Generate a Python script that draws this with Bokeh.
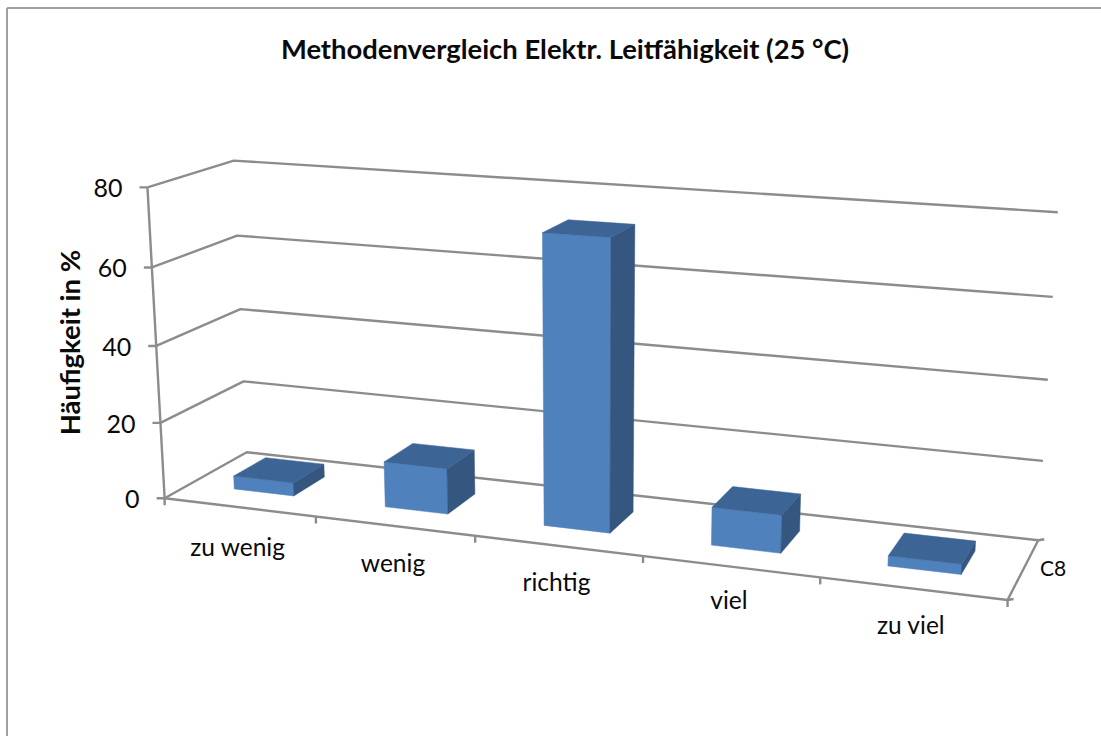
import numpy as np
from bokeh.plotting import figure
from bokeh.models import Range1d
from bokeh.core.properties import value
from bokeh.embed import file_html
from bokeh.resources import INLINE

# ---- data ----
categories = ["zu wenig", "wenig", "richtig", "viel", "zu viel"]
frequency = [3.5, 11.8, 73.0, 9.5, 2.5]
y_ticks = [0, 20, 40, 60, 80]
series_name = "C8"
title = "Methodenvergleich Elektr. Leitfähigkeit (25 °C)"
y_title = "Häufigkeit in %"

# ---- camera: (category u, depth v, value h) -> page pixel, fitted to the frame of the box ----
cal = [
    # u, v, h, px, py
    (0, 0, 0, 164, 497), (0, 0, 20, 160, 422), (0, 0, 40, 156, 345), (0, 0, 60, 152, 267), (0, 0, 80, 147, 187),
    (0, 1, 0, 247, 452), (0, 1, 20, 243, 381), (0, 1, 40, 240, 308), (0, 1, 60, 236, 235), (0, 1, 80, 233, 160),
    (5, 1, 0, 1037, 539), (5, 1, 20, 1043, 461), (5, 1, 40, 1048, 379), (5, 1, 60, 1052, 297), (5, 1, 80, 1057, 212),
    (1, 0, 0, 315, 517), (2, 0, 0, 474, 537), (4, 0, 0, 819, 577), (5, 0, 0, 1008, 598),
]
A, b = [], []
for u, v, h, px, py in cal:
    P = [u, v, h, 1]
    A.append(P + [0, 0, 0, 0] + [-px * q for q in P[:3]]); b.append(px)
    A.append([0, 0, 0, 0] + P + [-py * q for q in P[:3]]); b.append(py)
m = np.linalg.lstsq(np.array(A, float), np.array(b, float), rcond=None)[0]
M = np.append(m, 1.0).reshape(3, 4)


def proj(u, v, h):
    x, y, w = M @ np.array([u, v, h, 1.0])
    return float(x / w), float(y / w)


def seg(a, b):
    return [a[0], b[0]], [a[1], b[1]]


p = figure(width=1101, height=736, x_range=Range1d(0, 1101), y_range=Range1d(736, 0),
           output_backend="svg", toolbar_location=None, min_border=0,
           outline_line_color=None)
p.xaxis.visible = False
p.yaxis.visible = False
p.xgrid.visible = False
p.ygrid.visible = False
p.background_fill_color = "white"

GRID = "#8c8c8c"
# chart frame (only top and left edges are in the crop)
p.line([6.5, 6.5], [736, 7.5], line_color="#a0a0a0", line_width=2)
p.line([6.5, 1101], [7.5, 7.5], line_color="#a0a0a0", line_width=2)


def gl(a, b, w=2.4):
    xs, ys = seg(a, b)
    p.line(xs, ys, line_color=GRID, line_width=w)


n = len(categories)
vmax = y_ticks[-1]
for t in y_ticks:
    xs = [proj(0, 0, t)[0], proj(0, 1, t)[0], proj(n, 1, t)[0]]
    ys = [proj(0, 0, t)[1], proj(0, 1, t)[1], proj(n, 1, t)[1]]
    p.line(xs, ys, line_color=GRID, line_width=2.4)
    a = proj(0, 0, t)
    gl((a[0] - 8, a[1]), a)
    p.text([a[0] - 25], [a[1] + 1], text=[str(t)], text_font=value("Lato"), text_font_size="25px",
           text_color="#0a0a0a", text_align="right", text_baseline="middle")

gl(proj(0, 0, 0), proj(0, 0, vmax))                # value axis
gl(proj(0, 0, 0), proj(n, 0, 0))                   # category axis
gl(proj(n, 0, 0), proj(n, 1, 0))                   # depth axis
for i in range(n + 1):
    a = proj(i, 0, 0)
    gl(a, (a[0], a[1] + 7))
e = proj(n, 1, 0)
gl(e, (e[0] + 6, e[1] - 1))
e = proj(n, 0, 0)
gl(e, (e[0] + 6, e[1] - 1))

FRONT, TOP, SIDE = "#4f81bd", "#3c6494", "#34567f"
for i, val in enumerate(frequency):
    u0, u1, v0, v1 = i + 0.3, i + 0.7, 0.3, 0.7
    faces = [
        ([(u0, v0, 0), (u1, v0, 0), (u1, v0, val), (u0, v0, val)], FRONT),
        ([(u1, v0, 0), (u1, v1, 0), (u1, v1, val), (u1, v0, val)], SIDE),
        ([(u0, v0, val), (u1, v0, val), (u1, v1, val), (u0, v1, val)], TOP),
    ]
    for pts, col in faces:
        q = [proj(*c) for c in pts]
        p.patch([c[0] for c in q], [c[1] for c in q], fill_color=col, line_color=col, line_width=0.5)

# category labels: placed under the category axis
label_drop = [39, 36, 36, 33, 36]
for i, (c, d) in enumerate(zip(categories, label_drop)):
    x, y = proj(i + 0.5, 0, 0)
    p.text([x - 1.5], [y + d], text=[c], text_font=value("Lato"), text_font_size="24.5px",
           text_color="#0a0a0a", text_align="center", text_baseline="middle")

a, b2 = proj(n, 0, 0), proj(n, 1, 0)
p.text([(a[0] + b2[0]) / 2 + 17], [(a[1] + b2[1]) / 2 - 3], text=[series_name], text_font=value("Lato"),
       text_font_size="21px", text_color="#0a0a0a", text_align="left", text_baseline="middle")

p.text([564.5], [47.5], text=[title], text_font=value("Lato"), text_font_size="27.4px", text_font_style="bold",
       text_color="#0a0a0a", text_align="center", text_baseline="middle")
p.text([69], [342], text=[y_title], angle=np.pi / 2, text_font=value("Lato"), text_font_size="27.5px",
       text_font_style="bold", text_color="#0a0a0a", text_align="center", text_baseline="middle")

open("out.html", "w").write(file_html(p, INLINE))
